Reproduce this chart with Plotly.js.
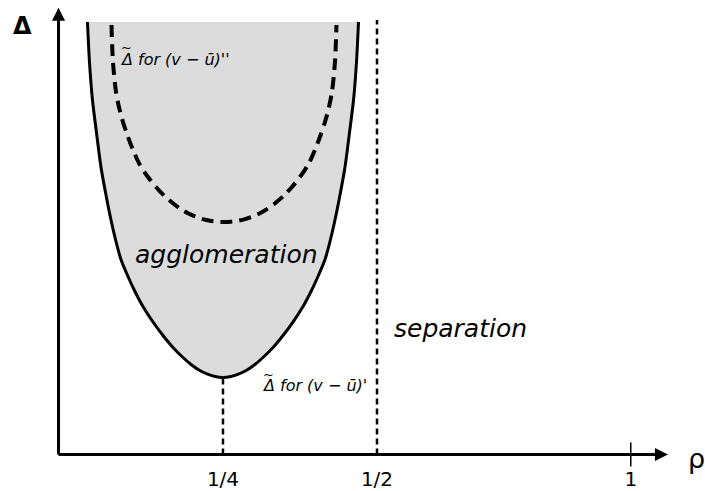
<!DOCTYPE html>
<html>
<head>
<meta charset="utf-8">
<script src="https://cdn.plot.ly/plotly-3.0.1.min.js"></script>
<style>html,body{margin:0;padding:0;background:#fff;}#chart{width:705px;height:491px;}</style>
</head>
<body>
<div id="chart"></div>
<script>
// Outer (solid) boundary of the agglomeration region: rho and Delta (schematic units)
const rhoOuter   = [0.0300, 0.0333, 0.0381, 0.0446, 0.0519, 0.0593, 0.0682, 0.0763, 0.0844, 0.0958, 0.1071, 0.1201, 0.1364, 0.1526, 0.1688, 0.1851, 0.1981, 0.2110, 0.2240, 0.2370,
                    0.25,
                    0.2630, 0.2760, 0.2890, 0.3019, 0.3149, 0.3312, 0.3474, 0.3636, 0.3799, 0.3929, 0.4042, 0.4156, 0.4237, 0.4318, 0.4407, 0.4481, 0.4554, 0.4619, 0.4667, 0.4700];
const deltaOuter = [99.54, 90.22, 81.59, 74.11, 66.17, 60.30, 53.97, 49.02, 44.88, 40.97, 37.51, 34.06, 30.49, 27.39, 24.63, 22.32, 20.71, 19.45, 18.53, 17.95,
                    17.72,
                    17.95, 18.53, 19.45, 20.71, 22.32, 24.63, 27.39, 30.49, 34.06, 37.51, 40.97, 44.88, 49.02, 53.97, 60.30, 66.17, 74.11, 81.59, 90.22, 99.54];

// Inner (dashed) curve: Delta-tilde for (v - u)''
const rhoInner   = [0.0690, 0.0714, 0.0763, 0.0811, 0.0876, 0.0941, 0.1039, 0.1152, 0.1282, 0.1412, 0.1542, 0.1672, 0.1802, 0.1932, 0.2061, 0.2175, 0.2289, 0.2402,
                    0.2516,
                    0.2630, 0.2743, 0.2857, 0.2971, 0.3100, 0.3230, 0.3360, 0.3490, 0.3620, 0.3750, 0.3880, 0.3993, 0.4091, 0.4156, 0.4221, 0.4269, 0.4318, 0.4342];
const deltaInner = [98.85, 90.33, 83.43, 79.98, 76.52, 73.76, 70.08, 66.63, 63.87, 61.57, 59.61, 58.00, 56.62, 55.54, 54.71, 54.16, 53.79, 53.58,
                    53.51,
                    53.58, 53.79, 54.16, 54.71, 55.54, 56.62, 58.00, 59.61, 61.57, 63.87, 66.63, 70.08, 73.76, 76.52, 79.98, 83.43, 90.33, 98.85];

// Reference lines
const rhoSeparation = [0.5, 0.5];
const deltaSeparation = [0, 100];
const rhoMin = [0.25, 0.25];
const deltaMin = [0, 17.72];

// Axis ticks
const tickVals = [0.25, 0.5, 0.912];
const tickText = ['1/4', '1/2', '1'];

// Axis geometry (schematic units)
const originRho = -0.017;
const originDelta = 0;
const rhoArrowTip = 0.9724;
const deltaArrowTip = 102.8;

const FONT = 'DejaVu Sans, Arial, sans-serif';

const traces = [
  { x: rhoOuter, y: deltaOuter, type: 'scatter', mode: 'lines', fill: 'toself',
    fillcolor: '#dcdcdc', line: { width: 0, shape: 'spline', smoothing: 0.8 }, hoverinfo: 'skip' },
  { x: rhoSeparation, y: deltaSeparation, type: 'scatter', mode: 'lines',
    line: { color: '#000', width: 2.5, dash: '6px,4px' }, hoverinfo: 'skip' },
  { x: rhoMin, y: deltaMin, type: 'scatter', mode: 'lines',
    line: { color: '#000', width: 2.5, dash: '6px,4px' }, hoverinfo: 'skip' },
  { x: rhoInner, y: deltaInner, type: 'scatter', mode: 'lines',
    line: { color: '#000', width: 4, dash: '12px,7px', shape: 'spline', smoothing: 0.8 }, hoverinfo: 'skip' },
  { x: rhoOuter, y: deltaOuter, type: 'scatter', mode: 'lines',
    line: { color: '#000', width: 3, shape: 'spline', smoothing: 0.8 }, hoverinfo: 'skip' },
  // axes shafts
  { x: [originRho, originRho], y: [originDelta, deltaArrowTip - 3], type: 'scatter', mode: 'lines',
    line: { color: '#000', width: 3 }, hoverinfo: 'skip', cliponaxis: false },
  { x: [originRho, rhoArrowTip - 0.02], y: [originDelta, originDelta], type: 'scatter', mode: 'lines',
    line: { color: '#000', width: 3 }, hoverinfo: 'skip', cliponaxis: false },
  // tick mark at 1
  { x: [tickVals[2]], y: [0], type: 'scatter', mode: 'markers',
    marker: { symbol: 'line-ns', size: 17, line: { color: '#000', width: 1.5 } }, hoverinfo: 'skip', cliponaxis: false }
];

const labelFont = { family: FONT, size: 16, color: '#000' };
const tildeFont = { family: FONT, size: 13, color: '#000' };

const annotations = [
  { x: originRho, y: deltaArrowTip, ax: originRho, ay: deltaArrowTip - 8, xref: 'x', yref: 'y', axref: 'x', ayref: 'y',
    text: '', showarrow: true, arrowhead: 2, arrowsize: 0.87, arrowwidth: 3, arrowcolor: '#000' },
  { x: rhoArrowTip, y: originDelta, ax: rhoArrowTip - 0.05, ay: originDelta, xref: 'x', yref: 'y', axref: 'x', ayref: 'y',
    text: '', showarrow: true, arrowhead: 2, arrowsize: 0.87, arrowwidth: 3, arrowcolor: '#000' },
  { x: -0.075, y: 98.7, xref: 'x', yref: 'y', text: 'Δ', showarrow: false,
    font: { family: 'DejaVu Sans', size: 24, color: '#000', weight: 'bold' }, xanchor: 'center', yanchor: 'middle' },
  { x: 1.0195, y: -1.0, xref: 'x', yref: 'y', text: 'ρ', showarrow: false,
    font: { family: FONT, size: 27, color: '#000' }, xanchor: 'center', yanchor: 'middle' },
  { x: 0.255, y: 46.0, xref: 'x', yref: 'y', text: '<i>agglomeration</i>', showarrow: false,
    font: { family: FONT, size: 25, color: '#000' }, xanchor: 'center', yanchor: 'middle' },
  { x: 0.636, y: 29.1, xref: 'x', yref: 'y', text: '<i>separation</i>', showarrow: false,
    font: { family: FONT, size: 25, color: '#000' }, xanchor: 'center', yanchor: 'middle' },
  { x: 0.0795, y: 91.0, xref: 'x', yref: 'y', text: "<i>Δ for (v \u2212 \u016B)''</i>", showarrow: false,
    font: labelFont, xanchor: 'left', yanchor: 'middle' },
  { x: 0.0935, y: 93.6, xref: 'x', yref: 'y', text: '<i>~</i>', showarrow: false,
    font: tildeFont, xanchor: 'center', yanchor: 'middle' },
  { x: 0.310, y: 15.8, xref: 'x', yref: 'y', text: "<i>Δ for (v \u2212 \u016B)'</i>", showarrow: false,
    font: labelFont, xanchor: 'left', yanchor: 'middle' },
  { x: 0.324, y: 18.4, xref: 'x', yref: 'y', text: '<i>~</i>', showarrow: false,
    font: tildeFont, xanchor: 'center', yanchor: 'middle' }
];

const layout = {
  width: 705, height: 491,
  margin: { l: 0, r: 0, t: 0, b: 30 },
  paper_bgcolor: '#fff', plot_bgcolor: '#fff',
  showlegend: false,
  xaxis: { range: [-0.112, 1.0325], showgrid: false, zeroline: false, showline: false,
    tickvals: tickVals, ticktext: tickText, ticks: '', ticklabelstandoff: 4,
    tickfont: { family: FONT, size: 20, color: '#000' }, fixedrange: true },
  yaxis: { range: [-1.496, 104.6], visible: false, showgrid: false, zeroline: false, fixedrange: true },
  annotations: annotations
};

Plotly.newPlot('chart', traces, layout, { staticPlot: true, displayModeBar: false });
</script>
</body>
</html>
